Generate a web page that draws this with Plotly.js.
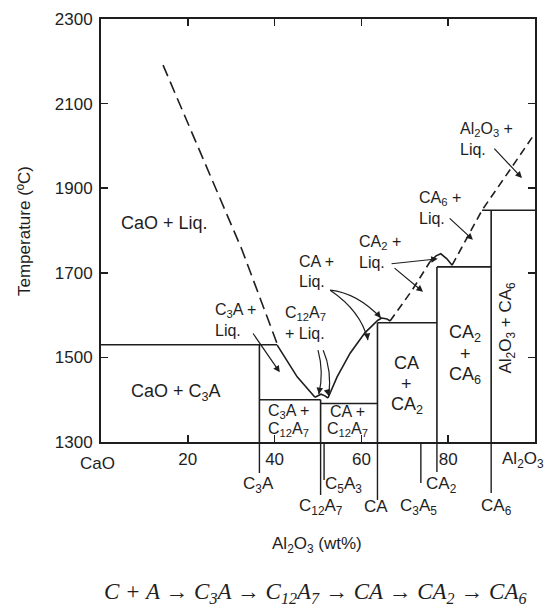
<!DOCTYPE html>
<html>
<head>
<meta charset="utf-8">
<script src="https://cdn.plot.ly/plotly-3.0.1.min.js"></script>
<style>html,body{margin:0;padding:0;background:#fff;}#chart{width:546px;height:610px;}</style>
</head>
<body>
<div id="chart"></div>
<script>
// ---------- DATA (Al2O3 wt% , temperature degC) ----------
// liquidus: CaO + Liq. (dashed)
const liqCaOX = [14.3, 22.8, 32.5, 40.6];
const liqCaOT = [2191, 1986, 1754, 1532];
// liquidus: C3A + Liq. (solid)
const liqC3AX = [40.6, 45.2, 49.3];
const liqC3AT = [1529, 1454, 1406];
// C12A7 congruent maximum (solid)
const liqC12A7X = [49.3, 50.0, 50.7, 51.6, 52.3];
const liqC12A7T = [1406, 1409, 1413, 1409, 1404];
// liquidus: CA + Liq. (solid)
const liqCAX = [52.3, 54.4, 57.4, 60.8, 63.8, 64.7, 65.9, 66.6];
const liqCAT = [1404, 1454, 1510, 1558, 1588, 1593, 1591, 1586];
// liquidus: CA2 + Liq. (dashed)
const liqCA2X = [66.6, 71.7, 75.8];
const liqCA2T = [1586, 1659, 1726];
// CA2 maximum (solid)
const humpCA2X = [75.8, 77.2, 78.3, 79.7, 80.9];
const humpCA2T = [1726, 1740, 1745, 1733, 1718];
// liquidus: CA6 + Liq. and Al2O3 + Liq. (dashed)
const liqCA6X = [80.9, 84.6, 87.8];
const liqCA6T = [1718, 1789, 1848];
const liqAlX = [87.8, 94.2, 100];
const liqAlT = [1848, 1943, 2030];

// isotherms (horizontal invariant lines)
const isoT    = [1530, 1400, 1391, 1582, 1714, 1848];
const isoFrom = [0, 36.5, 50.6, 63.7, 77.4, 87.8];
const isoTo   = [40.6, 50.6, 63.7, 77.4, 89.9, 100];

// compounds
const compNames = ['C<sub>3</sub>A', 'C<sub>12</sub>A<sub>7</sub>', 'C<sub>5</sub>A<sub>3</sub>', 'CA', 'C<sub>3</sub>A<sub>5</sub>', 'CA<sub>2</sub>', 'CA<sub>6</sub>'];
const compX     = [36.5, 50.6, 51.4, 63.7, 73.7, 77.4, 89.9];
const compTop   = [1530, 1400, 1300, 1582, 1300, 1714, 1848];

// axis ticks
const xTickVals = [20, 40, 60, 80];
const xTickText = ['20', '40', '60', '80'];
const yTickVals = [1300, 1500, 1700, 1900, 2100, 2300];

// ---------- BUILD ----------
const INK = '#1e1e1e';
const traces = [];
function line(x, y, dash, w) {
  traces.push({type: 'scatter', mode: 'lines', x: x, y: y, hoverinfo: 'skip',
    line: {color: INK, width: w || 1.6, dash: dash || 'solid'}});
}
line(liqCaOX, liqCaOT, '12px,6px', 1.6);
line(liqC3AX, liqC3AT);
line(liqC12A7X, liqC12A7T);
line(liqCAX, liqCAT);
line(liqCA2X, liqCA2T, '8px,5px', 1.6);
line(humpCA2X, humpCA2T);
line(liqCA6X.concat(liqAlX.slice(1)), liqCA6T.concat(liqAlT.slice(1)), '8px,5px', 1.6);
for (let i = 0; i < isoT.length; i++) line([isoFrom[i], isoTo[i]], [isoT[i], isoT[i]]);
for (let i = 0; i < compX.length; i++) {
  if (compTop[i] > 1300) line([compX[i], compX[i]], [1300, compTop[i]]);
}

// plot area in pixels: 101..535 (x), 19..442 (y)
const L = 101, R = 535, T = 19, B = 442;
const pxY = py => (B - py) / (B - T);
const pxX = px => (px - L) / (R - L);

const shapes = [];
const dropBottom = [473, 495, 480, 500, 483, 472, 493];
for (let i = 0; i < compX.length; i++) {
  shapes.push({type: 'line', xref: 'x', yref: 'paper', x0: compX[i], x1: compX[i],
    y0: 0, y1: pxY(dropBottom[i]), line: {color: INK, width: 1.4}});
}
function curve(p) { shapes.push({type: 'path', xref: 'x', yref: 'y', path: p, line: {color: INK, width: 1.2}}); }
curve('M 50.0,1517 Q 51.4,1465 50.2,1413');
curve('M 51.2,1517 Q 53.2,1470 52.5,1409');
curve('M 52.8,1659 Q 59.1,1652 64.5,1593');
curve('M 52.8,1659 Q 59.9,1610 61.5,1541');

const F = 'Liberation Sans, Arial, sans-serif';
const ann = [];
function txt(text, x, y, size, opts) {
  ann.push(Object.assign({text: text, x: x, y: y, xref: 'x', yref: 'y', showarrow: false,
    xanchor: 'center', yanchor: 'middle',
    font: {family: F, size: size, color: INK}, align: 'center'}, opts || {}));
}
function stack(arr, x, y, size, gap, opts) {
  const n = arr.length;
  arr.forEach((s, i) => txt(s, x, y, size, Object.assign({yshift: ((n - 1) / 2 - i) * gap}, opts || {})));
}
// region labels
txt('CaO + Liq.', 14.7, 1818, 18);
txt('CaO + C<sub>3</sub>A', 17.3, 1416, 18);
stack(['C<sub>3</sub>A +', 'Liq.'], 25.8, 1588, 16, 20, {xanchor: 'left'});
stack(['C<sub>12</sub>A<sub>7</sub>', '+ Liq.'], 41.9, 1581, 16, 20, {xanchor: 'left'});
stack(['CA +', 'Liq.'], 45.2, 1702, 16, 20, {xanchor: 'left'});
stack(['CA<sub>2</sub> +', 'Liq.'], 59.0, 1749, 16, 20, {xanchor: 'left'});
stack(['CA<sub>6</sub> +', 'Liq.'], 72.8, 1853, 16, 20, {xanchor: 'left'});
stack(['Al<sub>2</sub>O<sub>3</sub> +', 'Liq.'], 82.3, 2014, 16, 20, {xanchor: 'left'});
stack(['CA', '+', 'CA<sub>2</sub>'], 70.5, 1437, 18, 21);
stack(['CA<sub>2</sub>', '+', 'CA<sub>6</sub>'], 83.9, 1508, 18, 21);
txt('Al<sub>2</sub>O<sub>3</sub> + CA<sub>6</sub>', 93.5, 1570, 17, {textangle: -90});
stack(['C<sub>3</sub>A +', 'C<sub>12</sub>A<sub>7</sub>'], 43.3, 1350, 16, 18);
stack(['CA +', 'C<sub>12</sub>A<sub>7</sub>'], 56.7, 1350, 16, 18);

function arrow(tx, ty, hx, hy) {
  ann.push({x: hx, y: hy, ax: tx, ay: ty, xref: 'x', yref: 'y', axref: 'x', ayref: 'y',
    text: '', showarrow: true, arrowhead: 2, arrowsize: 1.1, arrowwidth: 1.2, arrowcolor: INK});
}
arrow(34.8, 1560, 41.2, 1465);
arrow(66.6, 1721, 77.6, 1733);
arrow(67.3, 1714, 74.2, 1655);
arrow(80.0, 1832, 85.7, 1778);
arrow(90.3, 1997, 97.0, 1924);
function head(hx, hy, dx, dy) {
  ann.push({x: hx, y: hy, ax: dx, ay: dy, xref: 'x', yref: 'y',
    text: '', showarrow: true, arrowhead: 2, arrowsize: 1.1, arrowwidth: 1.2, arrowcolor: INK});
}
head(50.2, 1413, 1, -7);
head(52.5, 1409, -2, -7);
head(64.5, 1593, -5, -6);
head(61.5, 1541, -1, -7);

// compound labels under the axis
const rowY = [485, 507, 485, 507, 507, 485, 507];
const shiftX = [-1, 0, 19, -1, -2, 5, 5];
for (let i = 0; i < compX.length; i++) {
  ann.push({text: compNames[i], x: compX[i], xshift: shiftX[i], y: pxY(rowY[i]), xref: 'x', yref: 'paper',
    xanchor: 'center', yanchor: 'middle', showarrow: false, font: {family: F, size: 17, color: INK}});
}
function paperTxt(text, px, py, size, opts) {
  ann.push(Object.assign({text: text, x: pxX(px), y: pxY(py), xref: 'paper', yref: 'paper',
    xanchor: 'center', yanchor: 'middle', showarrow: false, font: {family: F, size: size, color: INK}}, opts || {}));
}
paperTxt('CaO', 97, 463, 17);
paperTxt('Al<sub>2</sub>O<sub>3</sub>', 523, 460, 17);
paperTxt('Al<sub>2</sub>O<sub>3</sub> (wt%)', 317, 545, 17);
paperTxt('Temperature (ºC)', 24, 231, 17, {textangle: -90});
paperTxt('<i>C + A → C<sub>3</sub>A → C<sub>12</sub>A<sub>7</sub> → CA → CA<sub>2</sub> → CA<sub>6</sub></i>', 315, 593, 23,
  {font: {family: 'Liberation Serif, Times New Roman, serif', size: 23, color: INK}});

const axisCommon = {showgrid: false, zeroline: false, showline: true, linecolor: INK, linewidth: 2,
  mirror: 'ticks', ticks: 'inside', ticklen: 7, tickwidth: 1.5, tickcolor: INK,
  tickfont: {family: F, size: 17, color: INK}, fixedrange: true};

const layout = {
  width: 546, height: 610,
  margin: {l: L, r: 546 - R, t: T, b: 610 - B, pad: 0},
  paper_bgcolor: '#fff', plot_bgcolor: '#fff',
  showlegend: false,
  xaxis: Object.assign({}, axisCommon, {range: [0, 100], tickvals: xTickVals, ticktext: xTickText, ticklabelstandoff: 1}),
  yaxis: Object.assign({}, axisCommon, {range: [1300, 2300], tickvals: yTickVals, ticktext: yTickVals.map(String), ticklabelstandoff: 3}),
  shapes: shapes,
  annotations: ann
};

Plotly.newPlot('chart', traces, layout, {staticPlot: true});
</script>
</body>
</html>
